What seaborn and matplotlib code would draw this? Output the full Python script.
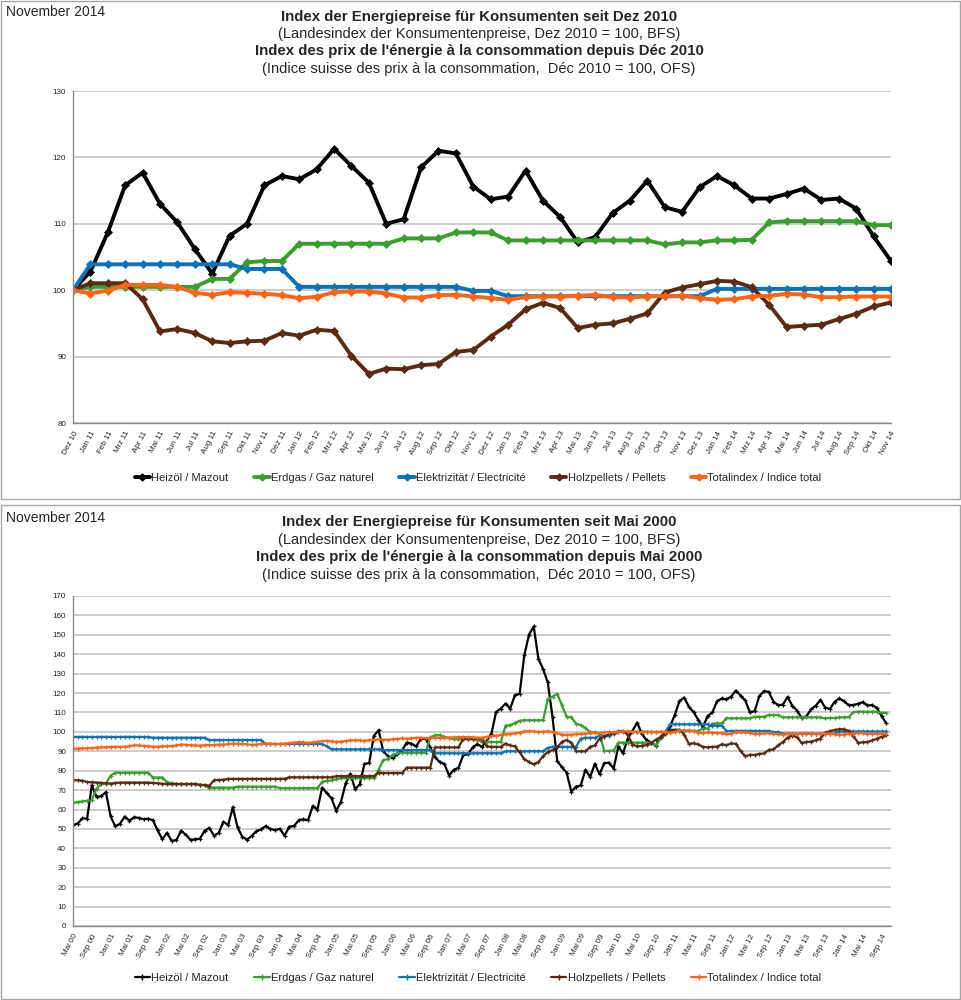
import numpy as np
import pandas as pd
import matplotlib
matplotlib.use("Agg")
import matplotlib.pyplot as plt
from matplotlib.lines import Line2D
from matplotlib.patches import Rectangle
import seaborn as sns

# ── data ────────────────────────────────────────────────────────────
MONTHS = ["Jan", "Feb", "Mrz", "Apr", "Mai", "Jun",
          "Jul", "Aug", "Sep", "Okt", "Nov", "Dez"]

series_names = ["Heizöl / Mazout", "Erdgas / Gaz naturel",
                "Elektrizität / Electricité", "Holzpellets / Pellets",
                "Totalindex / Indice total"]
colors = ["#000000", "#3a9e2c", "#0a72b8", "#5a2a12", "#ff6414"]

# Dez 2010 .. Nov 2014 (48 months)
heizoel_recent = [100, 102.8, 108.7, 115.8, 117.7, 113.0, 110.2, 106.2, 102.5, 108.2,
                  110.0, 115.8, 117.2, 116.7, 118.2, 121.3, 118.7, 116.2, 110.0, 110.7,
                  118.5, 121.0, 120.6, 115.6, 113.7, 114.1, 118.0, 113.5, 111.0, 107.2,
                  108.0, 111.6, 113.5, 116.5, 112.5, 111.8, 115.5, 117.2, 115.8, 113.8,
                  113.8, 114.5, 115.3, 113.6, 113.8, 112.3, 108.1, 104.4]
erdgas_recent = [100, 100.5, 100.5, 100.5, 100.5, 100.5, 100.5, 100.5, 101.7, 101.7,
                 104.2, 104.4, 104.4, 107.0, 107.0, 107.0, 107.0, 107.0, 107.0, 107.8,
                 107.8, 107.8, 108.7, 108.7, 108.7, 107.5, 107.5, 107.5, 107.5, 107.5,
                 107.5, 107.5, 107.5, 107.5, 106.9, 107.2, 107.2, 107.5, 107.5, 107.6,
                 110.2, 110.4, 110.4, 110.4, 110.4, 110.4, 109.8, 109.8]
strom_recent = [100, 103.9, 103.9, 103.9, 103.9, 103.9, 103.9, 103.9, 103.9, 103.9,
                103.2, 103.2, 103.2, 100.5, 100.5, 100.5, 100.5, 100.5, 100.5, 100.5,
                100.5, 100.5, 100.5, 99.9, 99.9, 99.1, 99.1, 99.1, 99.1, 99.1,
                99.1, 99.1, 99.1, 99.1, 99.1, 99.1, 99.1, 100.2, 100.2, 100.2,
                100.2, 100.2, 100.2, 100.2, 100.2, 100.2, 100.2, 100.2]
pellets_recent = [100, 101.05, 101.05, 101.05, 98.65, 93.8, 94.15, 93.55, 92.3, 92.05,
                  92.3, 92.4, 93.55, 93.15, 94.05, 93.85, 90.1, 87.4, 88.2, 88.1,
                  88.7, 88.9, 90.7, 91.0, 93.0, 94.8, 97.1, 98.1, 97.3, 94.3,
                  94.8, 95.0, 95.7, 96.5, 99.65, 100.4, 100.9, 101.4, 101.3, 100.45,
                  97.8, 94.45, 94.65, 94.8, 95.65, 96.45, 97.55, 98.15]
total_recent = [100, 99.5, 99.95, 100.8, 100.8, 100.8, 100.5, 99.6, 99.3, 99.7,
                99.6, 99.45, 99.25, 98.8, 99.0, 99.7, 99.8, 99.8, 99.5, 98.9,
                98.9, 99.25, 99.3, 99.05, 98.8, 98.55, 98.95, 99.05, 99.05, 99.15,
                99.3, 98.95, 98.9, 99.05, 99.15, 99.15, 98.8, 98.55, 98.65, 99.05,
                99.15, 99.45, 99.35, 98.95, 98.95, 99.05, 99.05, 99.05]

# Mai 2000 .. Nov 2010 (127 months), one row per year
heizoel_early = [
    52.0, 52.8, 55.5, 55.3, 72.4, 66.6, 66.9, 69.0,
    56.5, 51.3, 52.7, 56.4, 54.3, 56.0, 55.7, 55.0, 55.3, 54.5, 49.2, 44.7,
    48.0, 43.8, 44.3, 49.1, 47.0, 44.4, 44.6, 45.0, 49.1, 50.5, 46.5, 48.0,
    53.7, 52.0, 61.2, 50.8, 46.0, 44.5, 46.4, 48.8, 49.8, 51.5, 50.0, 49.4,
    50.1, 46.5, 51.2, 51.5, 54.5, 54.9, 54.5, 61.8, 60.0, 71.3, 68.4, 65.7,
    59.3, 64.0, 73.5, 78.5, 70.5, 73.0, 83.5, 84.0, 98.0, 100.8, 90.0, 87.5,
    86.5, 88.5, 90.5, 94.5, 94.0, 92.5, 96.5, 96.5, 92.0, 87.0, 84.5, 83.5,
    77.5, 80.5, 81.5, 88.0, 88.5, 92.0, 93.7, 92.3, 95.5, 99.0, 110.3, 112.0,
    114.6, 112.0, 118.9, 119.6, 139.5, 150.1, 154.3, 137.7, 132.3, 125.5, 107.7, 85.0,
    81.8, 79.0, 69.2, 71.8, 72.4, 80.5, 76.7, 83.6, 78.2, 83.8, 84.2, 81.1,
    92.5, 89.0, 96.5, 100.5, 104.8, 99.0, 95.7, 94.5, 92.8, 97.5, 99.3]
erdgas_early = [
    63.5, 63.8, 64.2, 64.5, 64.8, 70.8, 73.0, 73.4,
    77.5, 79.0, 79.0, 79.0, 79.0, 79.0, 79.0, 79.0, 79.0, 76.5, 76.5, 76.5,
    74.0, 73.6, 73.2, 73.2, 73.2, 73.2, 73.2, 72.8, 72.5, 71.2, 71.3, 71.3,
    71.3, 71.3, 71.3, 71.8, 71.8, 71.8, 71.8, 71.8, 71.8, 71.8, 71.8, 71.8,
    71.0, 71.0, 71.0, 71.0, 71.0, 71.0, 71.0, 71.0, 71.0, 74.3, 74.8, 75.0,
    75.5, 76.2, 76.2, 76.2, 76.2, 76.2, 76.2, 76.2, 76.2, 80.5, 85.5, 86.0,
    88.2, 89.0, 89.3, 89.3, 89.3, 89.3, 89.3, 89.3, 97.2, 98.3, 98.3, 97.5,
    96.8, 96.2, 96.2, 96.2, 96.2, 96.2, 95.7, 95.0, 94.8, 94.8, 94.8, 94.8,
    103.2, 103.4, 104.6, 105.7, 106.0, 106.0, 106.0, 106.0, 106.0, 117.0, 118.2, 119.6,
    113.7, 107.8, 107.5, 104.3, 103.4, 102.2, 99.8, 99.8, 99.1, 90.2, 90.2, 90.4,
    94.5, 94.5, 94.5, 94.5, 94.5, 94.5, 94.5, 94.5, 93.0, 96.6, 98.8]
strom_early = [
    97.4, 97.4, 97.4, 97.4, 97.4, 97.4, 97.4, 97.4,
    97.4, 97.4, 97.4, 97.4, 97.4, 97.4, 97.4, 97.4, 97.4, 97.0, 97.0, 97.0,
    97.0, 97.0, 97.0, 97.0, 97.0, 97.0, 97.0, 97.0, 97.0, 95.8, 95.8, 95.8,
    95.8, 95.8, 95.8, 95.8, 95.8, 95.8, 95.8, 95.8, 95.8, 93.8, 93.8, 93.8,
    93.8, 93.8, 93.8, 93.8, 93.8, 93.8, 93.8, 93.8, 93.8, 93.8, 92.5, 91.0,
    91.0, 91.0, 91.0, 91.0, 91.0, 91.0, 91.0, 91.0, 91.0, 91.0, 90.6, 90.6,
    90.6, 90.6, 90.6, 90.6, 90.6, 90.6, 90.6, 90.6, 90.6, 89.0, 89.0, 89.0,
    89.0, 89.0, 89.0, 89.0, 89.0, 89.0, 89.0, 89.0, 89.0, 89.0, 89.0, 89.0,
    90.0, 90.0, 90.0, 90.0, 90.0, 90.0, 90.0, 90.0, 90.0, 91.8, 92.3, 92.3,
    92.3, 92.3, 92.3, 92.3, 96.5, 97.0, 97.0, 97.0, 98.0, 98.0, 98.0, 99.0,
    100.0, 100.0, 100.0, 100.0, 100.0, 100.0, 100.0, 100.0, 100.0, 100.0, 100.0]
pellets_early = [
    75.1, 75.1, 74.9, 74.2, 74.0, 73.9, 73.8, 73.5,
    73.4, 73.7, 73.9, 73.9, 73.9, 73.9, 73.9, 73.9, 73.9, 73.7, 73.5, 73.3,
    73.1, 73.1, 73.1, 73.1, 73.1, 73.1, 73.1, 72.7, 72.6, 72.3, 75.1, 75.2,
    75.3, 75.8, 75.8, 75.8, 75.8, 75.8, 75.8, 75.8, 75.8, 75.8, 75.8, 75.8,
    75.8, 75.8, 76.6, 76.6, 76.6, 76.6, 76.6, 76.6, 76.6, 76.6, 76.6, 76.6,
    77.2, 77.2, 77.2, 77.2, 77.2, 77.2, 77.2, 77.2, 77.2, 78.8, 78.8, 78.8,
    78.8, 78.8, 78.8, 81.6, 81.6, 81.6, 81.6, 81.6, 81.6, 92.0, 92.0, 92.0,
    92.0, 92.0, 92.0, 96.5, 96.5, 96.5, 96.5, 96.5, 92.5, 92.3, 92.3, 92.3,
    94.0, 93.0, 92.5, 89.5, 86.0, 84.5, 83.3, 84.5, 87.5, 89.7, 90.6, 92.0,
    94.9, 95.8, 94.5, 90.0, 90.0, 90.0, 92.3, 93.0, 96.5, 97.5, 98.8, 99.5,
    100.3, 100.5, 98.5, 93.5, 92.5, 92.8, 93.2, 94.3, 96.0, 97.4, 99.0]
total_early = [
    91.4, 91.4, 91.5, 91.5, 91.7, 91.9, 92.0, 92.1,
    92.2, 92.3, 92.3, 92.4, 92.6, 93.1, 93.0, 92.8, 92.6, 92.4, 92.4, 92.5,
    92.6, 92.7, 93.0, 93.5, 93.3, 93.1, 93.0, 92.9, 93.1, 93.2, 93.3, 93.4,
    93.5, 93.7, 94.0, 93.9, 93.8, 93.6, 93.3, 93.5, 93.8, 94.0, 93.9, 93.7,
    93.7, 93.9, 94.2, 94.5, 94.8, 94.6, 94.4, 94.6, 94.9, 95.2, 95.4, 95.1,
    94.9, 95.0, 95.3, 95.6, 95.7, 95.6, 95.5, 95.7, 96.0, 96.1, 96.0, 96.0,
    96.2, 96.4, 96.6, 96.5, 96.7, 97.0, 97.0, 96.8, 96.8, 96.9, 97.0, 97.0,
    97.1, 97.2, 97.3, 97.4, 97.3, 97.2, 97.0, 97.0, 97.4, 97.8, 98.1, 98.4,
    98.7, 98.9, 99.2, 99.6, 100.2, 100.5, 100.2, 99.9, 100.1, 100.3, 99.9, 99.3,
    98.6, 98.5, 98.6, 98.8, 98.9, 99.1, 99.3, 99.4, 99.5, 99.7, 99.8, 99.8,
    100.0, 100.4, 100.3, 100.0, 99.9, 100.0, 100.1, 99.9, 99.8, 99.9, 100.0]

recent = [heizoel_recent, erdgas_recent, strom_recent, pellets_recent, total_recent]
early = [heizoel_early, erdgas_early, strom_early, pellets_early, total_early]


def month_labels(start_year, start_month, n):
    out = []
    for k in range(n):
        m = start_month - 1 + k
        out.append(f"{MONTHS[m % 12]} {(start_year + m // 12) % 100:02d}")
    return out


recent_labels = month_labels(2010, 12, 48)
long_labels = month_labels(2000, 5, 127 + 48)


def long_frame(values_list, labels):
    rows = []
    for name, vals in zip(series_names, values_list):
        for i, v in enumerate(vals):
            rows.append({"pos": i, "Monat": labels[i], "Serie": name, "Index": v})
    return pd.DataFrame(rows)


df_top = long_frame(recent, recent_labels)
df_bot = long_frame([e + r[1:] for e, r in zip(early, recent)], long_labels)

# ── style ───────────────────────────────────────────────────────────
sns.set_style("white")
plt.rcParams["font.family"] = ["Liberation Sans", "DejaVu Sans"]
GRID = "#bfbfbf"
AXIS = "#8c8c8c"

fig = plt.figure(figsize=(9.62, 10), dpi=100)

# panel frames
for y0, h in [(0.501, 0.498), (0.001, 0.494)]:
    fig.add_artist(Rectangle((0.001, y0), 0.997, h, transform=fig.transFigure,
                             fill=False, edgecolor="#a6a6a6", lw=1))


def titles(y_px, since):
    fig.text(0.006, 1 - y_px[0] / 1000, "November 2014", fontsize=10, va="center")
    fig.text(0.498, 1 - y_px[1] / 1000,
             f"Index der Energiepreise für Konsumenten seit {since[0]}",
             fontsize=10.8, fontweight="bold", ha="center", va="center")
    fig.text(0.498, 1 - y_px[2] / 1000,
             "(Landesindex der Konsumentenpreise, Dez 2010 = 100, BFS)",
             fontsize=10.5, ha="center", va="center")
    fig.text(0.498, 1 - y_px[3] / 1000,
             f"Index des prix de l'énergie à la consommation depuis {since[1]}",
             fontsize=10.8, fontweight="bold", ha="center", va="center")
    fig.text(0.498, 1 - y_px[4] / 1000,
             "(Indice suisse des prix à la consommation,  Déc 2010 = 100, OFS)",
             fontsize=10.5, ha="center", va="center")


def draw(ax, df, lw, marker, ms, mew):
    for name, col in zip(series_names, colors):
        sub = df[df["Serie"] == name]
        sns.lineplot(data=sub, x="pos", y="Index", ax=ax, color=col, lw=lw,
                     marker=marker, markersize=ms, markeredgewidth=mew,
                     markeredgecolor=col, markerfacecolor=col, legend=False)
    ax.set_xlabel("")
    ax.set_ylabel("")
    ax.grid(axis="y", color=GRID, lw=1.1)
    ax.set_axisbelow(True)
    for s in ["top", "right"]:
        ax.spines[s].set_visible(False)
    for s in ["left", "bottom"]:
        ax.spines[s].set_color(AXIS)
        ax.spines[s].set_linewidth(1.0)
    ax.tick_params(axis="both", length=3, width=0.8, color=AXIS, pad=2,
                   labelcolor="#222222")


def legend(y, lw, marker, ms):
    handles = [Line2D([], [], color=c, lw=lw, marker=marker, markersize=ms,
                      markeredgecolor=c, markerfacecolor=c)
               for c in colors]
    fig.legend(handles, series_names, loc="center", bbox_to_anchor=(0.497, y),
               ncol=5, frameon=False, fontsize=8, handlelength=1.4,
               handletextpad=0.1, columnspacing=2.3)


# top panel
titles([12, 17, 34, 51, 69], ["Dez 2010", "Déc 2010"])
ax1 = fig.add_axes([73 / 962, 1 - 423 / 1000, 818 / 962, 332 / 1000])
draw(ax1, df_top, 2.8, "D", 4.2, 0.5)
ax1.set_xlim(0, 47)
ax1.set_ylim(80, 130)
ax1.set_yticks(range(80, 131, 10))
ax1.set_xticks(range(48))
ax1.set_xticklabels(recent_labels, rotation=62, ha="right",
                    rotation_mode="anchor", fontsize=5.8)
ax1.tick_params(axis="y", labelsize=5.8)
legend(0.522, 2.8, "D", 3.5)

# bottom panel
titles([518, 522, 540, 557, 575], ["Mai 2000", "Mai 2000"])
ax2 = fig.add_axes([73 / 962, 1 - 926 / 1000, 818 / 962, 330 / 1000])
draw(ax2, df_bot, 1.6, "+", 3.0, 0.9)
ax2.set_xlim(0, 174)
ax2.set_ylim(0, 170)
ax2.set_yticks(range(0, 171, 10))
ticks = list(range(0, 175, 4))
ax2.set_xticks(ticks)
ax2.set_xticklabels([long_labels[t] for t in ticks], rotation=62, ha="right",
                    rotation_mode="anchor", fontsize=5.8)
ax2.tick_params(axis="y", labelsize=5.8)
legend(0.022, 1.6, "+", 4)

fig.savefig("out.png", dpi=100)
